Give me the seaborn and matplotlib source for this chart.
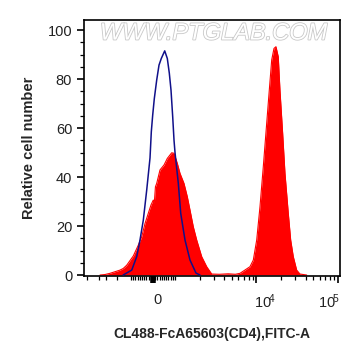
import numpy as np
import pandas as pd
import matplotlib
matplotlib.use("Agg")
import matplotlib.pyplot as plt
import matplotlib.patheffects as pe
import matplotlib.transforms as mtransforms
import seaborn as sns

# unstained control, blue outline
ctrl_x = [-1250, -968, -741, -591, -441, -286, -136, -77, -14, 59, 168, 273, 377,
          532, 650, 741, 818, 895, 955, 1000, 1098, 1175, 1326, 1528, 1810, 2026]
ctrl_y = [0.0, 2.0, 7.5, 14.3, 22.4, 34.7, 47.8, 58.5, 65.3, 72.0, 79.6, 85.7, 88.4,
          91.5, 88.4, 82.4, 75.5, 64.6, 55.0, 50.0, 37.4, 25.2, 14.3, 6.1, 0.8, 0.0]

# CL488-FcA65603 (CD4) stained, red filled
cd4_x = [-2400, -2085, -1810, -1365, -1243, -1129, -895, -668, -514, -364, -214, -91,
         14, 60, 110, 168, 318, 500, 650, 850, 955, 1067, 1152, 1289, 1415, 1528,
         1677, 1846, 2126, 2449, 2821, 3500, 4500, 5500, 6280, 8320, 9140, 10060,
         11040, 12120, 13340, 14360, 15370, 16400, 17340, 18500, 19410, 20950,
         22370, 24560, 26280, 28300, 31140, 34180, 41300]
cd4_y = [0.0, 0.2, 0.7, 2.0, 2.7, 4.0, 7.8, 12.2, 15.6, 21.0, 25.2, 28.6,
         30.6, 29.5, 36.0, 37.4, 42.9, 44.9, 47.6, 49.9, 49.7, 45.6, 41.5, 37.4, 32.0, 26.5,
         19.7, 14.3, 7.5, 3.4, 0.4, 0.3, 0.5, 0.3, 0.7, 3.4, 6.1, 14.3,
         27.9, 44.2, 61.9, 75.5, 87.8, 92.5, 93.2, 89.1, 75.5, 57.8,
         41.5, 25.2, 14.3, 7.5, 2.0, 0.4, 0.0]

x_major = [0, 1e4, 1e5]
x_labels = ["0", "$10^{\\!\\mathregular{4}}$", "$10^{\\!\\mathregular{5}}$"]
x_label_shift = [4, 9, -9]   # px, labels sit off their ticks in the original
x_minor = ([-3500, -2500, -2000, -1500, -1000] + list(range(-900, 0, 100))
           + list(range(100, 1000, 100)) + [1000] + list(range(2000, 10000, 1000))
           + list(range(20000, 100000, 10000)))
y_major = [0, 20, 40, 60, 80, 100]

sns.set_style("ticks")
plt.rcParams["font.family"] = ["Liberation Sans", "DejaVu Sans"]
plt.rcParams["mathtext.default"] = "regular"

fig = plt.figure(figsize=(3.61, 3.56), dpi=100)
ax = fig.add_axes([84 / 361, 1 - 276 / 356, 256 / 361, 256 / 356])

cd4 = pd.DataFrame({"x": cd4_x, "y": cd4_y})
ctrl = pd.DataFrame({"x": ctrl_x, "y": ctrl_y})

ax.fill_between(cd4["x"], 0, cd4["y"], color="#ff0000", linewidth=0, zorder=2)
sns.lineplot(data=cd4, x="x", y="y", color="#ff0000", linewidth=0.8, ax=ax, zorder=2)
sns.lineplot(data=ctrl, x="x", y="y", color="#10108a", linewidth=1.1, ax=ax, zorder=3)

ax.set_xscale("symlog", linthresh=1000, linscale=0.243)
ax.set_xlim(-3775, 105900)
ax.set_ylim(-0.4, 104.1)

ax.set_xticks(x_major)
ax.set_xticklabels(x_labels)
ax.set_xticks(x_minor, minor=True)
ax.set_yticks(y_major)
ax.set_yticks(np.arange(0, 105, 5), minor=True)

ax.tick_params(axis="both", which="major", length=5, width=1.2, colors="black",
               labelcolor="#222222", labelsize=10.5)
ax.tick_params(axis="both", which="minor", length=3, width=0.9, colors="black")
ax.tick_params(axis="x", which="major", pad=7)
ax.xaxis.get_major_ticks()[0].tick1line.set_markeredgewidth(4)

for lab, dx in zip(ax.get_xticklabels(), x_label_shift):
    lab.set_transform(lab.get_transform() +
                      mtransforms.ScaledTranslation(dx / 100, 0, fig.dpi_scale_trans))

for s in ax.spines.values():
    s.set_linewidth(1.2)
    s.set_color("black")

ax.set_xlabel("CL488-FcA65603(CD4),FITC-A", fontweight="bold", fontsize=10, labelpad=11)
ax.set_ylabel("Relative cell number", fontweight="bold", fontsize=10.5, labelpad=8)

ax.text(0.506, 0.949, "WWW.PTGLAB.COM", transform=ax.transAxes, ha="center", va="center",
        fontsize=17, style="italic", color="white", zorder=1,
        path_effects=[pe.withStroke(linewidth=1.2, foreground="#c8c8c8")])

fig.savefig("out.png", dpi=100)
